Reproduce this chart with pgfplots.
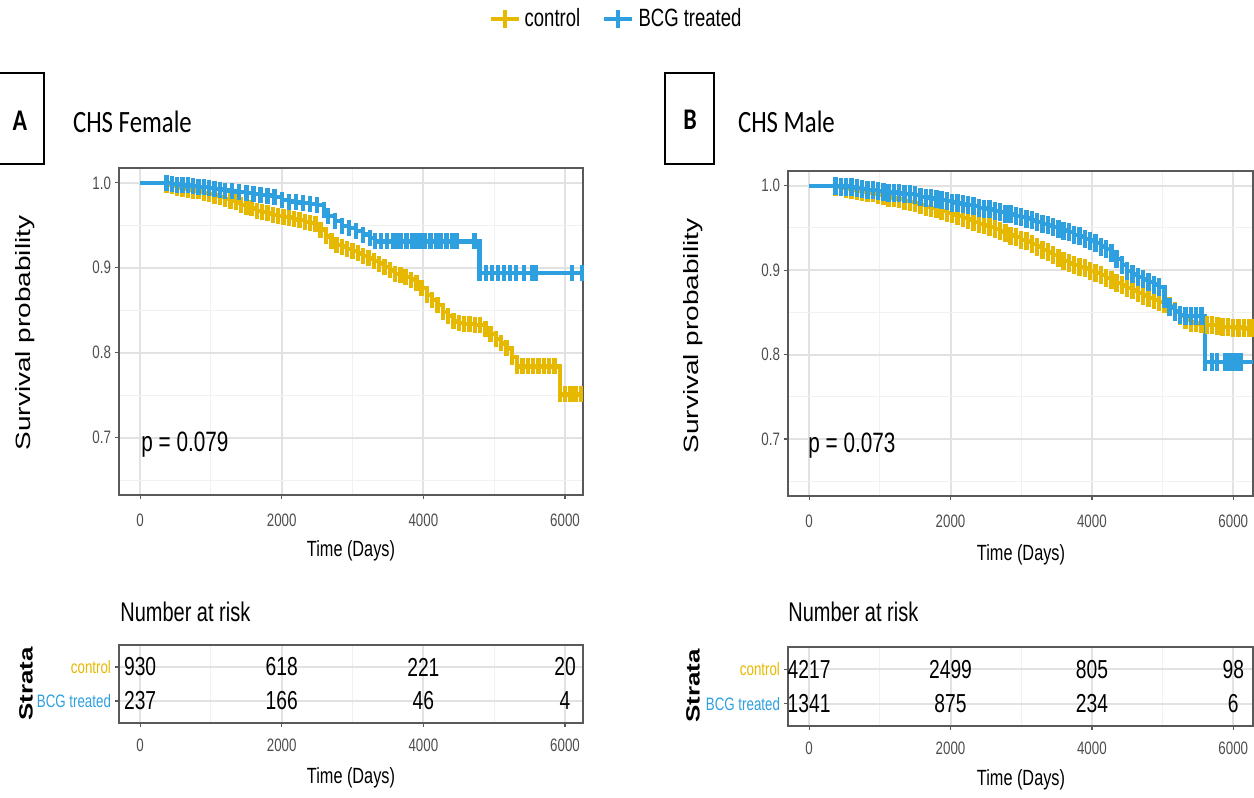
\documentclass[border=0pt]{standalone}
\usepackage{fontspec}
\setmainfont[FakeStretch=0.74]{Liberation Sans}
\newfontfamily\plainsf{Liberation Sans}
\newfontfamily\calib[FakeStretch=0.8]{Carlito}
\usepackage{graphicx}
\usepackage{pgfplots}
\usepackage{pgfplotstable}
\pgfplotsset{compat=1.18}
\definecolor{ctrl}{HTML}{E7B800}
\definecolor{bcg}{HTML}{2E9FDF}
\definecolor{tickgray}{HTML}{4D4D4D}
\definecolor{gridmaj}{HTML}{E2E2E2}
\definecolor{gridmin}{HTML}{F1F1F1}

\pgfplotstableread{
x y
0 1.0
375 0.998
450 0.996
525 0.994
600 0.993
675 0.992
750 0.991
825 0.990
900 0.988
975 0.987
1050 0.985
1125 0.983
1200 0.981
1275 0.979
1350 0.977
1425 0.974
1500 0.972
1575 0.970
1650 0.967
1725 0.966
1800 0.964
1875 0.962
1950 0.961
2025 0.960
2100 0.959
2175 0.957
2250 0.956
2325 0.954
2400 0.953
2475 0.951
2550 0.945
2625 0.937
2700 0.932
2775 0.927
2850 0.925
2925 0.922
3000 0.920
3075 0.917
3150 0.914
3225 0.911
3300 0.908
3375 0.905
3450 0.901
3525 0.897
3600 0.893
3675 0.891
3750 0.889
3825 0.886
3900 0.882
3975 0.876
4050 0.868
4125 0.862
4200 0.856
4275 0.848
4350 0.843
4425 0.837
4500 0.835
4575 0.834
4650 0.834
4725 0.833
4800 0.833
4875 0.828
4950 0.822
5025 0.816
5100 0.811
5175 0.805
5250 0.795
5325 0.784
5400 0.784
5475 0.784
5550 0.784
5625 0.784
5700 0.784
5775 0.784
5850 0.784
5925 0.751
6000 0.751
6075 0.751
6150 0.751
6225 0.751
}\ctrlA

\pgfplotstableread{
x y
0 1.0
375 1.0
450 0.999
525 0.998
600 0.997
675 0.997
750 0.996
825 0.995
900 0.995
975 0.994
1050 0.993
1125 0.992
1200 0.991
1300 0.990
1400 0.989
1500 0.988
1600 0.987
1700 0.986
1800 0.985
1900 0.983
2000 0.980
2100 0.978
2200 0.977
2300 0.976
2400 0.975
2500 0.974
2600 0.968
2650 0.961
2750 0.955
2850 0.949
2950 0.947
3050 0.943
3150 0.939
3250 0.935
3320 0.931
3399 0.931
3483 0.931
3567 0.931
3624 0.931
3680 0.931
3764 0.931
3848 0.931
3904 0.931
3961 0.931
4017 0.931
4101 0.931
4185 0.931
4242 0.931
4326 0.931
4410 0.931
4466 0.931
4719 0.931
4790 0.894
4888 0.894
4972 0.894
5056 0.894
5140 0.894
5225 0.894
5309 0.894
5421 0.894
5534 0.894
5590 0.894
6096 0.894
6240 0.894
}\bcgA

\pgfplotstableread{
x y
0 1.0
375 0.999
450 0.998
525 0.996
600 0.995
675 0.994
750 0.993
825 0.992
900 0.991
975 0.989
1050 0.988
1125 0.986
1200 0.985
1275 0.984
1350 0.982
1425 0.981
1500 0.979
1575 0.977
1650 0.975
1725 0.974
1800 0.972
1875 0.970
1950 0.968
2025 0.966
2100 0.964
2175 0.962
2250 0.960
2325 0.957
2400 0.955
2475 0.953
2550 0.951
2625 0.949
2700 0.946
2775 0.944
2850 0.941
2925 0.939
3000 0.936
3075 0.934
3150 0.931
3225 0.928
3300 0.924
3375 0.921
3450 0.918
3525 0.915
3600 0.911
3675 0.908
3750 0.906
3825 0.904
3900 0.902
3975 0.899
4050 0.897
4125 0.894
4200 0.891
4275 0.888
4350 0.885
4425 0.882
4500 0.879
4575 0.876
4650 0.873
4725 0.870
4800 0.867
4875 0.865
4950 0.862
5025 0.860
5100 0.857
5175 0.852
5250 0.846
5325 0.841
5400 0.838
5475 0.837
5550 0.836
5625 0.835
5700 0.835
5775 0.834
5850 0.833
5925 0.833
6000 0.832
6075 0.832
6150 0.831
6225 0.831
6275 0.831
}\ctrlB

\pgfplotstableread{
x y
0 1.0
375 1.000
450 0.999
525 0.999
600 0.998
675 0.997
750 0.996
825 0.995
900 0.995
975 0.994
1050 0.993
1125 0.992
1200 0.992
1275 0.991
1350 0.990
1425 0.990
1500 0.989
1575 0.987
1650 0.986
1725 0.985
1800 0.984
1875 0.983
1950 0.982
2025 0.980
2100 0.979
2175 0.978
2250 0.977
2325 0.976
2400 0.974
2475 0.973
2550 0.972
2625 0.970
2700 0.969
2775 0.967
2850 0.966
2925 0.964
3000 0.963
3075 0.961
3150 0.959
3225 0.957
3300 0.955
3375 0.953
3450 0.951
3525 0.949
3600 0.947
3675 0.945
3750 0.942
3825 0.940
3900 0.937
3975 0.935
4050 0.932
4125 0.928
4200 0.925
4275 0.920
4350 0.913
4425 0.906
4500 0.899
4575 0.895
4650 0.892
4725 0.889
4800 0.886
4875 0.883
4950 0.880
5025 0.866
5100 0.856
5175 0.851
5250 0.847
5325 0.846
5400 0.846
5475 0.846
5550 0.846
5604 0.791
5700 0.791
5773 0.791
5886 0.791
5942 0.791
6000 0.791
6055 0.791
6110 0.791
6275 0.791
}\bcgB

\pgfplotsset{
  kmbase/.style={
    scale only axis, anchor=north west,
    axis line style={black!65, line width=0.6pt},
    tick align=outside, tick pos=left,
    major tick length=2pt, minor tick length=0pt,
    tick style={black!65, line width=0.6pt},
    grid=both,
    major grid style={gridmaj, line width=1pt},
    minor grid style={gridmin, line width=0.5pt},
    every tick label/.append style={font=\fontsize{9}{10}\selectfont, text=tickgray},
    /pgf/number format/assume math mode=true,
    xtick={0,2000,4000,6000},
    minor xtick={1000,3000,5000},
    scaled x ticks=false,
    xticklabel style={/pgf/number format/1000 sep={}},
  },
  kmplot/.style={kmbase, ymin=0.6325, ymax=1.0175,
    ytick={0.7,0.8,0.9,1.0}, minor ytick={0.65,0.75,0.85,0.95},
    xticklabel style={yshift=-4pt},
    yticklabel style={xshift=1.5pt, /pgf/number format/fixed, /pgf/number format/fixed zerofill, /pgf/number format/precision=1}},
  kmtable/.style={kmbase, ymin=0.353, ymax=2.647, ytick={1,2},
    yticklabels={{\textcolor{bcg}{BCG treated}},{\textcolor{ctrl}{control}}},
    xticklabel style={yshift=-2.5pt},
    yticklabel style={xshift=1.5pt, font=\fontsize{9}{10}\selectfont}},
  kmover/.style={scale only axis, anchor=north west, hide axis, ymin=0.353, ymax=2.647},
  curve/.style={const plot, line width=2.2pt, forget plot},
  cens/.style={only marks, mark=|, mark size=4pt, mark options={line width=2.2pt}, forget plot},
  risk/.style={draw=none, mark=none, forget plot,
    nodes near coords, point meta=explicit symbolic, nodes near coords align={center},
    every node near coord/.append style={font=\fontsize{13}{14}\selectfont, text=black, anchor=center}},
}

\begin{document}
\begin{tikzpicture}[x=0.5pt, y=0.5pt]
\path[use as bounding box] (0,0) rectangle (1254,798);

% ---------- Panel A plot
\begin{axis}[kmplot, at={(59.5pt,315pt)}, width=232pt, height=163.5pt, xmin=-298, xmax=6254,
  legend style={at={(1.073,1.455)}, anchor=center, draw=none, fill=none,
    font=\fontsize{12.5}{13}\selectfont, /tikz/every even column/.append style={column sep=9pt}},
  legend columns=2]
\addlegendimage{ctrl, legend image code/.code={\draw[ctrl, line width=2.2pt] (0pt,0pt) -- (14pt,0pt); \draw[ctrl, line width=2pt] (7pt,-4.5pt) -- (7pt,4.5pt);}}
\addlegendentry{control}
\addlegendimage{bcg, legend image code/.code={\draw[bcg, line width=2.2pt] (0pt,0pt) -- (14pt,0pt); \draw[bcg, line width=2pt] (7pt,-4.5pt) -- (7pt,4.5pt);}}
\addlegendentry{BCG treated}
\addplot[curve, ctrl] table {\ctrlA};
\addplot[cens, ctrl, restrict x to domain=300:7000] table {\ctrlA};
\addplot[curve, bcg] table {\bcgA};
\addplot[cens, bcg, restrict x to domain=300:7000] table {\bcgA};
\end{axis}

% ---------- Panel B plot
\begin{axis}[kmplot, at={(394pt,313.5pt)}, width=232.5pt, height=162.5pt, xmin=-299, xmax=6279]
\addplot[curve, ctrl] table {\ctrlB};
\addplot[cens, ctrl, mark size=4.5pt, restrict x to domain=300:7000] table {\ctrlB};
\addplot[curve, bcg] table {\bcgB};
\addplot[cens, bcg, mark size=4.5pt, restrict x to domain=300:6200] table {\bcgB};
\end{axis}

% ---------- Panel A risk table (frame, grid, ticks)
\begin{axis}[kmtable, at={(59.5pt,76.5pt)}, width=232pt, height=39pt, xmin=-298, xmax=6254]
\addplot[draw=none, forget plot] coordinates {(0,1) (6000,2)};
\end{axis}
\begin{axis}[kmover, at={(59.5pt,76.5pt)}, width=232pt, height=39pt, xmin=-298, xmax=6254]
\addplot[risk] coordinates {(0,2) [930] (2000,2) [618] (4000,2) [221] (6000,2) [20]
  (0,1) [237] (2000,1) [166] (4000,1) [46] (6000,1) [4]};
\end{axis}

% ---------- Panel B risk table
\begin{axis}[kmtable, at={(394pt,75.5pt)}, width=232.5pt, height=39.5pt, xmin=-299, xmax=6279]
\addplot[draw=none, forget plot] coordinates {(0,1) (6000,2)};
\end{axis}
\begin{axis}[kmover, at={(394pt,75.5pt)}, width=232.5pt, height=39.5pt, xmin=-299, xmax=6279]
\addplot[risk] coordinates {(0,2) [4217] (2000,2) [2499] (4000,2) [805] (6000,2) [98]
  (0,1) [1341] (2000,1) [875] (4000,1) [234] (6000,1) [6]};
\end{axis}

% ---------- texts
\draw[line width=0.8pt] (-2,725) rectangle (44,634);
\node[font=\calib\bfseries\fontsize{15}{17}\selectfont] at (20,677) {A};
\node[anchor=west, font=\calib\fontsize{15.5}{17}\selectfont] at (66,676) {CHS Female};
\draw[line width=0.8pt] (665,725) rectangle (714,634);
\node[font=\calib\bfseries\fontsize{15}{17}\selectfont] at (690,678) {B};
\node[anchor=west, font=\calib\fontsize{15.5}{17}\selectfont] at (731,676) {CHS Male};

\node[anchor=base west, inner sep=0pt, font=\fontsize{14}{16}\selectfont] at (141,346) {p = 0.079};
\node[anchor=base west, inner sep=0pt, font=\fontsize{14}{16}\selectfont] at (808,345) {p = 0.073};

\node[rotate=90, font=\plainsf\fontsize{14}{16}\selectfont] at (25,465) {\scalebox{1}[0.74]{Survival probability}};
\node[rotate=90, font=\plainsf\fontsize{14}{16}\selectfont] at (693,462) {\scalebox{1}[0.74]{Survival probability}};

\node[font=\fontsize{11}{12}\selectfont] at (351,247) {Time (Days)};
\node[font=\fontsize{11}{12}\selectfont] at (1021,243) {Time (Days)};

\node[anchor=west, inner sep=0pt, font=\fontsize{13.5}{15}\selectfont] at (120,186) {Number at risk};
\node[anchor=west, inner sep=0pt, font=\fontsize{13.5}{15}\selectfont] at (788,186) {Number at risk};

\node[rotate=90, font=\plainsf\bfseries\fontsize{13}{15}\selectfont] at (26,114) {\scalebox{1}[0.74]{Strata}};
\node[rotate=90, font=\plainsf\bfseries\fontsize{13}{15}\selectfont] at (693,112) {\scalebox{1}[0.74]{Strata}};

\node[font=\fontsize{11}{12}\selectfont] at (351,20) {Time (Days)};
\node[font=\fontsize{11}{12}\selectfont] at (1021,18) {Time (Days)};
\end{tikzpicture}
\end{document}
